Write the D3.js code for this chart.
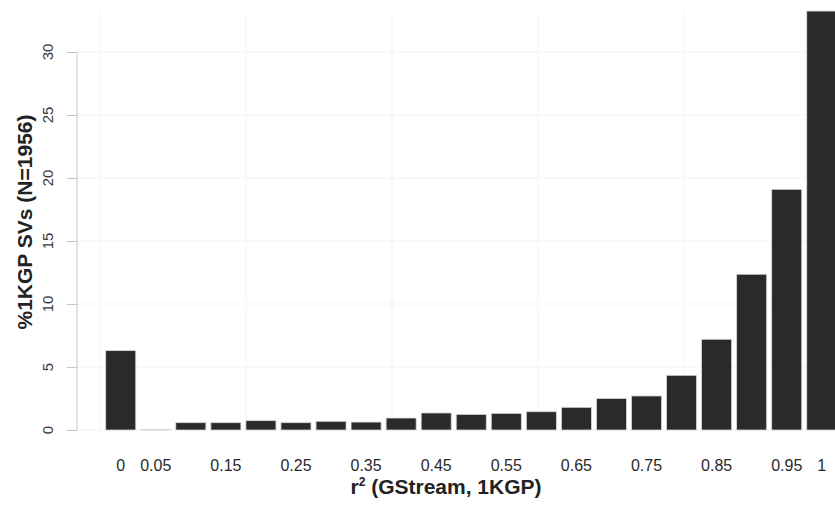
<!DOCTYPE html>
<html>
<head>
<meta charset="utf-8">
<script src="https://cdn.jsdelivr.net/npm/d3@7"></script>
<style>
  body { margin: 0; background: #fff; }
  text { font-family: "Liberation Sans", Arial, sans-serif; }
</style>
</head>
<body>
<div id="chart"></div>
<script>
// r2 bins and share of 1KGP SVs (%)
var bins = ["0", "0.05", "0.1", "0.15", "0.2", "0.25", "0.3", "0.35", "0.4", "0.45", "0.5",
            "0.55", "0.6", "0.65", "0.7", "0.75", "0.8", "0.85", "0.9", "0.95", "1"];
var percents = [6.3, 0.05, 0.58, 0.58, 0.74, 0.58, 0.69, 0.63, 0.95, 1.35, 1.24,
                1.32, 1.45, 1.8, 2.5, 2.7, 4.34, 7.2, 12.36, 19.1, 33.25];
var xLabels = ["0", "0.05", "0.15", "0.25", "0.35", "0.45", "0.55", "0.65", "0.75", "0.85", "0.95", "1"];
var yTicks = [0, 5, 10, 15, 20, 25, 30];
var gridX = [0, 1, 2, 3, 4, 5];

var w = 835;
var h = 510;

var svg = d3.select("#chart")
    .append("svg")
    .attr("width", w)
    .attr("height", h);

var x = d3.scaleBand()
    .domain(bins)
    .range([103.2, 839.3])
    .paddingInner(0.143)
    .paddingOuter(0.0715);

var y = d3.scaleLinear()
    .domain([0, 30])
    .range([430, 52]);

// faint background grid
var gx = d3.scaleLinear().domain([0, 5]).range([100, 830]);
svg.selectAll("line.vgrid")
    .data(gridX)
    .enter()
    .append("line")
    .attr("class", "vgrid")
    .attr("x1", function (d) { return gx(d); })
    .attr("x2", function (d) { return gx(d); })
    .attr("y1", 12)
    .attr("y2", 434)
    .attr("stroke", "#f3f3f3")
    .attr("stroke-width", 1);

svg.selectAll("line.hgrid")
    .data(yTicks)
    .enter()
    .append("line")
    .attr("class", "hgrid")
    .attr("x1", 77)
    .attr("x2", w)
    .attr("y1", function (d) { return y(d); })
    .attr("y2", function (d) { return y(d); })
    .attr("stroke", "#f3f3f3")
    .attr("stroke-width", 1);

// bars
svg.selectAll("rect")
    .data(percents)
    .enter()
    .append("rect")
    .attr("x", function (d, i) { return x(bins[i]); })
    .attr("y", function (d) { return y(d); })
    .attr("width", x.bandwidth())
    .attr("height", function (d) { return y(0) - y(d); })
    .attr("fill", "#2a2a2a")
    .attr("stroke", "#d6d6d6")
    .attr("stroke-width", 0.8);

// y axis
var yAxis = d3.axisLeft(y)
    .tickValues(yTicks)
    .tickSize(10)
    .tickPadding(0)
    .tickFormat(function (d) { return ""; });

var gy = svg.append("g")
    .attr("transform", "translate(77,0)")
    .call(yAxis);
gy.selectAll("path, line").attr("stroke", "#c4c4c4");
gy.select(".domain").attr("d", "M0," + y(30) + "V" + y(0));

svg.selectAll("text.ytick")
    .data(yTicks)
    .enter()
    .append("text")
    .attr("class", "ytick")
    .attr("transform", function (d) { return "translate(53," + y(d) + ") rotate(-90)"; })
    .attr("text-anchor", "middle")
    .attr("font-size", "15px")
    .attr("fill", "#3a3a3a")
    .text(function (d) { return d; });

// x labels
svg.selectAll("text.xtick")
    .data(xLabels)
    .enter()
    .append("text")
    .attr("class", "xtick")
    .attr("x", function (d) { return x(d) + x.bandwidth() / 2; })
    .attr("y", 471)
    .attr("text-anchor", "middle")
    .attr("font-size", "16px")
    .attr("fill", "#2a2a2a")
    .text(function (d) { return d; });

// titles
var xt = svg.append("text")
    .attr("x", 446)
    .attr("y", 494)
    .attr("text-anchor", "middle")
    .attr("font-size", "21px")
    .attr("font-weight", "bold")
    .attr("fill", "#222");
xt.append("tspan").text("r");
xt.append("tspan").attr("font-size", "12px").attr("dy", -8).text("2");
xt.append("tspan").attr("dy", 8).text(" (GStream, 1KGP)");

svg.append("text")
    .attr("transform", "translate(32,222) rotate(-90)")
    .attr("text-anchor", "middle")
    .attr("font-size", "21px")
    .attr("font-weight", "bold")
    .attr("fill", "#222")
    .text("%1KGP SVs (N=1956)");
</script>
</body>
</html>
